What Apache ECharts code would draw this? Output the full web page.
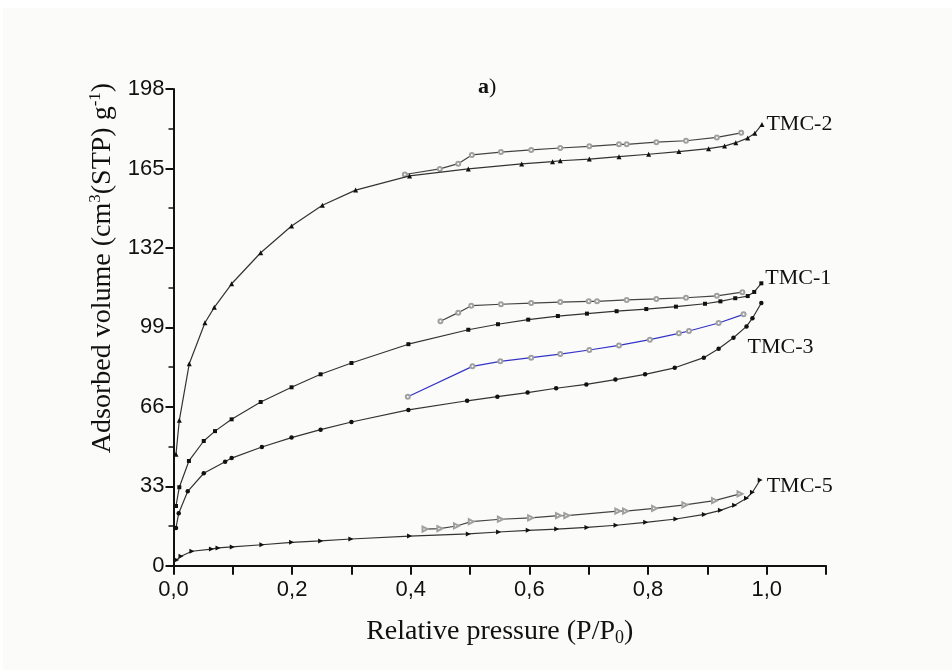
<!DOCTYPE html>
<html>
<head>
<meta charset="utf-8">
<script src="https://cdn.jsdelivr.net/npm/echarts@6/dist/echarts.min.js"></script>
<style>
  html, body { margin: 0; padding: 0; background: #ffffff; }
  #paper { position: absolute; left: 3px; top: 8px; right: 0; bottom: 0; background: #fbfcfa; }
  #chart { position: absolute; left: 0; top: 0; width: 952px; height: 670px; }
</style>
</head>
<body>
<div id="paper"></div>
<div id="chart"></div>
<script>
// N2 adsorption / desorption isotherms (relative pressure vs adsorbed volume)
const TMC2_ads_x = [0.0042,0.0098,0.0266,0.053,0.0688,0.098,0.147,0.199,0.251,0.307,0.398,0.497,0.587,0.639,0.652,0.701,0.751,0.801,0.852,0.902,0.929,0.948,0.968,0.980,0.992];
const TMC2_ads_y = [46.3,60.4,83.9,100.9,107.3,117.1,130.0,141.1,149.7,156.0,161.9,164.8,166.9,167.8,168.2,168.9,169.9,170.9,172.0,173.2,174.3,175.7,177.6,179.6,183.3];
const TMC2_des_x = [0.390,0.449,0.480,0.503,0.552,0.603,0.652,0.701,0.751,0.764,0.814,0.864,0.916,0.957];
const TMC2_des_y = [162.5,164.8,167.0,170.6,171.8,172.7,173.5,174.2,175.0,175.0,175.9,176.5,177.9,179.8];

const TMC1_ads_x = [0.0042,0.0098,0.026,0.051,0.070,0.098,0.147,0.199,0.248,0.300,0.396,0.497,0.547,0.598,0.648,0.697,0.747,0.797,0.847,0.896,0.922,0.947,0.968,0.979,0.991];
const TMC1_ads_y = [24.8,32.6,43.5,51.8,55.9,60.8,68.0,74.1,79.5,84.2,92.0,98.0,100.3,102.2,103.7,104.7,105.7,106.6,107.6,108.8,109.8,111.1,112.0,113.7,117.3];
const TMC1_des_x = [0.450,0.480,0.502,0.552,0.603,0.652,0.700,0.714,0.764,0.814,0.864,0.916,0.959];
const TMC1_des_y = [101.5,105.1,108.0,108.6,109.1,109.5,109.8,109.8,110.4,110.8,111.3,112.1,113.6];

const TMC3_ads_x = [0.0042,0.0088,0.024,0.051,0.087,0.098,0.149,0.199,0.248,0.300,0.396,0.495,0.546,0.597,0.645,0.696,0.745,0.795,0.845,0.894,0.919,0.944,0.966,0.976,0.991];
const TMC3_ads_y = [15.7,21.8,30.9,38.4,43.2,44.7,49.3,53.2,56.5,59.7,64.7,68.5,70.2,71.9,73.7,75.3,77.3,79.5,82.2,86.4,90.1,94.7,99.4,102.8,109.1];
const TMC3_des_x = [0.395,0.504,0.551,0.603,0.652,0.701,0.751,0.803,0.852,0.869,0.919,0.961];
const TMC3_des_y = [70.2,82.8,84.9,86.4,87.9,89.6,91.5,93.9,96.5,97.5,100.8,104.4];

const TMC5_ads_x = [0.0054,0.0126,0.031,0.064,0.075,0.099,0.149,0.199,0.248,0.299,0.398,0.497,0.548,0.598,0.646,0.697,0.746,0.796,0.847,0.895,0.922,0.946,0.966,0.976,0.989];
const TMC5_ads_y = [2.4,3.9,6.0,6.9,7.4,7.8,8.7,9.7,10.3,11.1,12.3,13.2,14.0,14.7,15.2,15.9,16.8,18.0,19.4,21.3,23.0,25.1,28.0,30.5,35.6];
const TMC5_des_x = [0.424,0.449,0.477,0.502,0.551,0.602,0.649,0.663,0.749,0.762,0.811,0.862,0.912,0.955];
const TMC5_des_y = [15.2,15.4,16.5,18.3,19.3,19.9,20.8,20.8,22.7,22.7,23.8,25.3,27.0,29.8];

const sampleNames = ['TMC-2', 'TMC-1', 'TMC-3', 'TMC-5'];
const yTicks = [0, 33, 66, 99, 132, 165, 198];

const SERIF = '"Liberation Serif", "Times New Roman", serif';
const SANS = '"Liberation Sans", Arial, sans-serif';

function pairs(xs, ys) { return xs.map((x, i) => [x, ys[i]]); }

// adsorption branch: filled markers, name written next to the last point
function adsSeries(name, xs, ys, symbol, rotate, size, labelOffset) {
  const data = pairs(xs, ys).map((p, i, arr) => {
    if (i !== arr.length - 1) return p;
    return {
      value: p,
      label: {
        show: true, position: 'right', distance: 2, offset: labelOffset,
        formatter: name, color: '#111', fontFamily: SERIF, fontSize: 22
      }
    };
  });
  return {
    name: name + ' ads', type: 'line', data: data,
    symbol: symbol, symbolSize: size, symbolRotate: rotate,
    itemStyle: { color: '#111', borderWidth: 0 },
    lineStyle: { color: '#333', width: 1.2 },
    emphasis: { disabled: true }, animation: false, z: 3
  };
}

// desorption branch: open markers (white fill, grey outline)
function desSeries(name, xs, ys, symbol, rotate, size, lineColor) {
  return {
    name: name + ' des', type: 'line', data: pairs(xs, ys),
    symbol: symbol, symbolSize: size, symbolRotate: rotate,
    itemStyle: { color: '#a0a0a0', borderColor: '#a0a0a0', borderWidth: 1 },
    lineStyle: { color: lineColor, width: 1.2 },
    emphasis: { disabled: true }, animation: false, z: 2
  };
}

const chart = echarts.init(document.getElementById('chart'), null, { renderer: 'canvas' });

chart.setOption({
  backgroundColor: 'transparent',
  animation: false,
  grid: { left: 173.5, right: 126, top: 89, bottom: 104.3, containLabel: false },
  xAxis: {
    type: 'value', min: 0, max: 1.1, interval: 0.1,
    name: 'Relative pressure (P/P{sub|0})',
    nameLocation: 'middle', nameGap: 50,
    nameTextStyle: {
      fontFamily: SERIF, fontSize: 28, color: '#111',
      rich: { sub: { fontFamily: SERIF, fontSize: 18, color: '#111', verticalAlign: 'bottom', padding: [14, 0, 0, 0] } }
    },
    axisLine: { show: true, onZero: false, lineStyle: { color: '#111', width: 2 } },
    axisTick: { show: true, inside: false, length: 9, lineStyle: { color: '#111', width: 2 } },
    minorTick: { show: false },
    splitLine: { show: false },
    axisLabel: {
      margin: 13, fontFamily: SANS, fontSize: 22, color: '#111',
      formatter: function (v) {
        const k = Math.round(v * 10);
        return k % 2 === 0 ? (k / 10).toFixed(1).replace('.', ',') : '';
      }
    }
  },
  yAxis: {
    type: 'value', min: yTicks[0], max: yTicks[yTicks.length - 1], interval: 33,
    axisLine: { show: true, onZero: false, lineStyle: { color: '#111', width: 2 } },
    axisTick: { show: true, inside: false, length: 8, lineStyle: { color: '#111', width: 2 } },
    minorTick: { show: true, splitNumber: 2, length: 5, lineStyle: { color: '#111', width: 1.5 } },
    splitLine: { show: false },
    axisLabel: { margin: 9, fontFamily: SANS, fontSize: 22, color: '#111' }
  },
  graphic: [
    {
      type: 'text', left: 478, top: 76, silent: true,
      style: {
        text: '{b|a}{n|)}',
        rich: {
          b: { fontFamily: SERIF, fontSize: 22, fontWeight: 'bold', fill: '#111' },
          n: { fontFamily: SERIF, fontSize: 22, fill: '#111' }
        }
      }
    },
    {
      type: 'text', x: 103, y: 268, rotation: Math.PI / 2, silent: true,
      style: {
        text: 'Adsorbed volume (cm{sup|3}(STP) g{sup|-1})',
        align: 'center', verticalAlign: 'middle',
        fontFamily: SERIF, fontSize: 28, fill: '#111',
        rich: {
          sup: { fontFamily: SERIF, fontSize: 17, fill: '#111', verticalAlign: 'top', padding: [0, 0, 14, 0] }
        }
      }
    }
  ],
  series: [
    adsSeries(sampleNames[0], TMC2_ads_x, TMC2_ads_y, 'triangle', 0, 5, [0, 0]),
    desSeries(sampleNames[0], TMC2_des_x, TMC2_des_y, 'emptyCircle', 0, 4, '#444'),
    adsSeries(sampleNames[1], TMC1_ads_x, TMC1_ads_y, 'rect', 0, 4, [0, -5]),
    desSeries(sampleNames[1], TMC1_des_x, TMC1_des_y, 'emptyCircle', 0, 4, '#444'),
    adsSeries(sampleNames[2], TMC3_ads_x, TMC3_ads_y, 'circle', 0, 4.5, [-18, 44]),
    desSeries(sampleNames[2], TMC3_des_x, TMC3_des_y, 'emptyCircle', 0, 4, '#3434c8'),
    adsSeries(sampleNames[3], TMC5_ads_x, TMC5_ads_y, 'triangle', -90, 5, [2, 6]),
    desSeries(sampleNames[3], TMC5_des_x, TMC5_des_y, 'emptyTriangle', -90, 5, '#444')
  ]
});
</script>
</body>
</html>
